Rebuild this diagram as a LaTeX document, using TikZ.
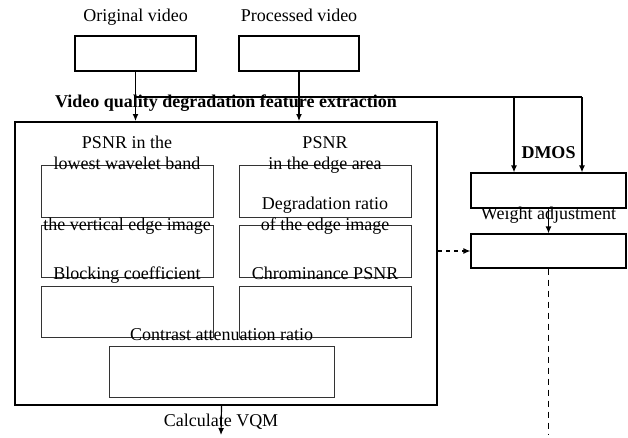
\documentclass[tikz,border=0pt]{standalone}
\usepackage{fontspec}
\setmainfont{Liberation Serif}
\usetikzlibrary{positioning,arrows.meta}
\newcommand{\diagfont}{\fontsize{18}{21}\selectfont}

\begin{document}
\begin{tikzpicture}[x=1pt,y=-1pt,font=\diagfont,
        >={Latex[length=7pt,width=6pt]},
        inbox/.style={draw,line width=1.6pt,minimum width=121pt,minimum height=35pt,inner sep=0pt},
        featbox/.style={draw=black!80,line width=0.9pt,minimum width=172pt,minimum height=52pt,inner sep=0pt},
        wbox/.style={draw,line width=1.2pt,minimum width=155pt,minimum height=35pt,inner sep=0pt},
        boxlabel/.style={align=center,inner sep=0pt,text depth=4pt},
        flow/.style={->,line width=1.2pt}]
    \useasboundingbox (0,0) rectangle (628,437);

    % Input videos
    \node[inbox] (orig) at (135.5,53.5) {};
    \node[inbox,minimum width=120pt] (proc) at (299,53.5) {};
    \node[boxlabel,above=10pt of orig] (origlbl) {Original video};
    \node[boxlabel,above=10pt of proc] (proclbl) {Processed video};

    % Feature extraction block
    \node[draw,line width=2pt,minimum width=422pt,minimum height=283pt,inner sep=0pt] (extract) at (226,263.5) {};
    \node[boxlabel,font=\diagfont\bfseries,above=9pt of extract] (extractlbl) {Video quality degradation feature extraction};

    % Feature boxes
    \node[featbox] (lowband) at (127,191) {};
    \node[featbox] (edgearea) at (325,191) {};
    \node[featbox] (vertedge) at (127,251) {};
    \node[featbox] (edgeratio) at (325,251) {};
    \node[featbox,minimum height=51pt] (blocking) at (127,311.5) {};
    \node[featbox,minimum height=51pt] (chroma) at (325,311.5) {};
    \node[featbox,minimum width=225pt,minimum height=51pt] (contrast) at (221.5,371.5) {};

    \node[boxlabel,above=-9pt of lowband] (lowbandlbl) {PSNR in the\\lowest wavelet band};
    \node[boxlabel,above=-9pt of edgearea] (edgearealbl) {PSNR\\in the edge area};
    \node[boxlabel,above=-10pt of vertedge] (vertedgelbl) {the vertical edge image};
    \node[boxlabel,above=-10pt of edgeratio] (edgeratiolbl) {Degradation ratio\\of the edge image};
    \node[boxlabel,above=2pt of blocking] (blockinglbl) {Blocking coefficient};
    \node[boxlabel,above=2pt of chroma] (chromalbl) {Chrominance PSNR};
    \node[boxlabel,above=1pt of contrast] (contrastlbl) {Contrast attenuation ratio};

    % Weighting boxes
    \node[wbox] (dmosbox) at (548.5,190.5) {};
    \node[wbox,minimum height=34pt] (weight) at (548.5,251) {};
    \node[boxlabel,font=\diagfont\bfseries,above=10pt of dmosbox] (dmoslbl) {DMOS};
    \node[boxlabel,above=10pt of weight] (weightlbl) {Weight adjustment};

    % Connectors
    \coordinate (tapA) at (514,97);
    \coordinate (tapB) at (582,97);
    \coordinate (vqm) at (221,435);
    \coordinate (dashend) at (548.5,435);

    \draw[flow] (orig.south) -- (orig.south |- extract.north);
    \draw[flow] (proc.south) -- (proc.south |- extract.north);
    \draw[line width=1.2pt] (orig.south |- tapB) -- (tapB);
    \draw[flow] (tapA) -- (tapA |- dmosbox.north);
    \draw[flow] (tapB) -- (tapB |- dmosbox.north);
    \draw[flow] (dmosbox.south) -- (weight.north);
    \draw[flow,dash pattern=on 4pt off 4pt] (extract.east |- weight.west) -- (weight.west);
    \draw[line width=1.2pt,dash pattern=on 6pt off 5pt] (weight.south) -- (dashend);
    \draw[flow] (contrast.south |- extract.south) -- (vqm);
    \node[boxlabel,above=4pt of vqm] (vqmlbl) {Calculate VQM};
\end{tikzpicture}
\end{document}
